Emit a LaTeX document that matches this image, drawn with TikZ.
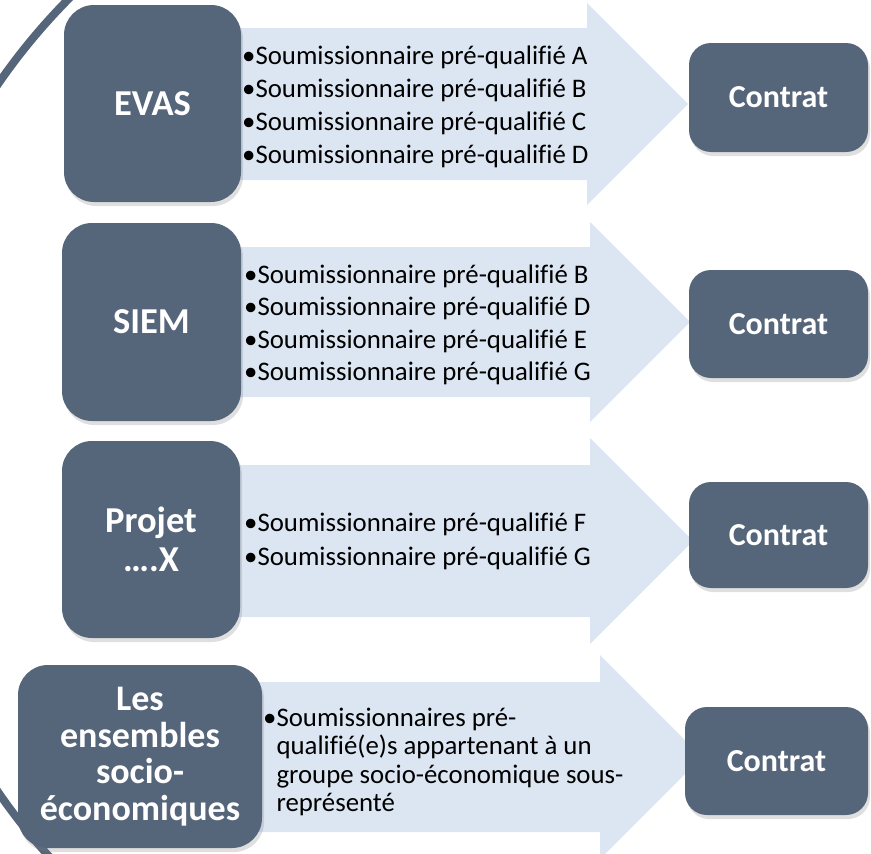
\documentclass[tikz,border=0pt]{standalone}
\usepackage{fontspec}
\setmainfont{Carlito}[Ligatures={NoCommon}]
\usetikzlibrary{shadows,backgrounds}

\definecolor{slate}{RGB}{85,102,123}
\definecolor{paleblue}{RGB}{220,230,242}

% block arrow: from node, body top, body bottom, head top, head base x
\newcommand\flowarrow[5]{%
  \fill[flow] (#1.center |- 0,#2) -- (#5,#2) -- (#5,#4)
    -- ({#5+(#2+#3)/2-#4},{(#2+#3)/2})
    -- (#5,{#2+#3-#4}) -- (#5,#3) -- (#1.center |- 0,#3) -- cycle;}

\begin{document}
\begin{tikzpicture}[x=1pt,y=-1pt,
    boxshadow/.style={drop shadow={shadow xshift=2pt,shadow yshift=-4pt,opacity=.25}},
    project/.style={fill=slate,text=white,rounded corners=30pt,align=center,inner sep=0pt,
      font=\fontsize{36.5}{39}\selectfont\bfseries,boxshadow},
    contract/.style={fill=slate,text=white,rounded corners=22pt,inner sep=0pt,
      minimum width=179pt,font=\fontsize{32}{34}\selectfont\bfseries,boxshadow},
    items/.style={anchor=west,align=left,inner sep=0pt,font=\fontsize{26.8}{33}\selectfont},
    flow/.style={fill=paleblue}]
  \useasboundingbox (0,0) rectangle (871,854);

  \node[project,minimum width=177pt,minimum height=197pt] (evas) at (152.5,103.5) {EVAS};
  \node[project,minimum width=179pt,minimum height=198pt] (siem) at (151.5,322) {SIEM};
  \node[project,minimum width=178pt,minimum height=197pt] (projet) at (151,539.5) {Projet\\….X};
  \node[project,minimum width=244pt,minimum height=183pt,font=\fontsize{36}{36.5}\selectfont\bfseries]
    (ensembles) at (140,756.5) {Les\\ensembles\\socio-\\économiques};

  \node[contract,minimum height=109pt] (c1) at (778.5,97.5) {Contrat};
  \node[contract,minimum height=108pt] (c2) at (778.5,324) {Contrat};
  \node[contract,minimum height=106pt] (c3) at (778.5,535) {Contrat};
  \node[contract,minimum width=183pt,minimum height=108pt] (c4) at (776.5,761) {Contrat};

  \node[items] (evaslist) at (242,107) {•Soumissionnaire pré-qualifié A\\•Soumissionnaire pré-qualifié B\\
    •Soumissionnaire pré-qualifié C\\•Soumissionnaire pré-qualifié D};
  \node[items,font=\fontsize{26.8}{32.3}\selectfont] (siemlist) at (244,325)
    {•Soumissionnaire pré-qualifié B\\•Soumissionnaire pré-qualifié D\\
    •Soumissionnaire pré-qualifié E\\•Soumissionnaire pré-qualifié G};
  \node[items,font=\fontsize{26.8}{34}\selectfont] (projetlist) at (244,541)
    {•Soumissionnaire pré-qualifié F\\•Soumissionnaire pré-qualifié G};
  \node[items,font=\fontsize{26.8}{28.4}\selectfont] (ensembleslist) at (263,762)
    {•Soumissionnaires pré-\\\phantom{•}qualifié(e)s appartenant à un\\
    \phantom{•}groupe socio-économique sous-\\\phantom{•}représenté};

  \begin{scope}[on background layer]
    \begin{scope}
      \clip (0,0) rectangle (871,854);
      \draw[slate,line width=8pt] (512,438) circle[radius=624];
    \end{scope}
    \flowarrow{evas}{28}{180}{3}{587}
    \flowarrow{siem}{247}{397}{222}{590}
    \flowarrow{projet}{465}{617}{438}{590}
    \flowarrow{ensembles}{682}{832}{655}{600}
  \end{scope}
\end{tikzpicture}
\end{document}
